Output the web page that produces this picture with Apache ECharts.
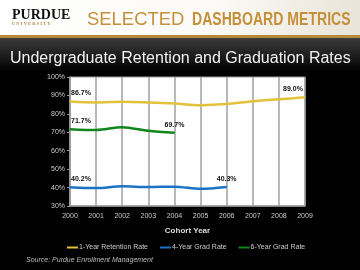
<!DOCTYPE html>
<html>
<head>
<meta charset="utf-8">
<script src="https://cdn.jsdelivr.net/npm/echarts@6/dist/echarts.min.js"></script>
<style>
  html, body { margin: 0; padding: 0; background: #000; }
  #chart { width: 360px; height: 270px; }
</style>
</head>
<body>
<div id="chart"></div>
<script>
// cohort years
const years = ['2000', '2001', '2002', '2003', '2004', '2005', '2006', '2007', '2008', '2009']

// rates in percent
const retention1Yr = [86.7, 86.2, 86.6, 86.2, 85.6, 84.7, 85.3, 86.9, 87.9, 89.0]
const grad4Yr = [40.2, 39.7, 40.7, 40.3, 40.5, 39.3, 40.3, null, null, null]
const grad6Yr = [71.7, 71.2, 72.8, 70.8, 69.7, null, null, null, null, null]

const seriesNames = ['1-Year Retention Rate', '4-Year Grad Rate', '6-Year Grad Rate']
const seriesColors = ['#e2c23a', '#1c73c4', '#11861c']

const chart = echarts.init(document.getElementById('chart'))

// label only the first and last point of a line
const endLabels = (data, offFirst, offLast) => {
  let last = data.length - 1
  while (data[last] == null) last--
  return data.map((v, i) => {
    if (i !== 0 && i !== last) return v
    return {
      value: v,
      label: {
        show: true,
        position: 'top',
        distance: 4,
        offset: i === 0 ? offFirst : offLast,
        formatter: p => p.value.toFixed(1) + '%',
        color: '#111',
        fontSize: 7,
        fontWeight: 'bold',
        fontFamily: 'Arial, Liberation Sans, sans-serif'
      }
    }
  })
}

const makeLine = (name, data, color, offFirst, offLast) => ({
  name,
  type: 'line',
  data: endLabels(data, offFirst, offLast),
  symbol: 'circle',
  symbolSize: 1,
  showSymbol: true,
  showAllSymbol: true,
  smooth: 0.3,
  color,
  itemStyle: { color },
  lineStyle: { width: 2.5, color },
  connectNulls: false
})

const option = {
  backgroundColor: '#000',
  animation: false,
  textStyle: { fontFamily: 'Arial, Liberation Sans, sans-serif' },
  graphic: [
    // white header
    {
      type: 'rect', left: 0, top: 0, z: -10,
      shape: { width: 360, height: 36 },
      style: {
        fill: new echarts.graphic.LinearGradient(0, 0, 1, 0, [
          { offset: 0, color: '#ffffff' },
          { offset: 0.6, color: '#fbfaf7' },
          { offset: 1, color: '#e9e4d8' }
        ])
      }
    },
    // gold rule
    {
      type: 'rect', left: 0, top: 35, z: -9,
      shape: { width: 360, height: 3 },
      style: { fill: '#b9893a' }
    },
    // dark title band
    {
      type: 'rect', left: 0, top: 38, z: -9,
      shape: { width: 360, height: 34 },
      style: {
        fill: new echarts.graphic.LinearGradient(0, 0, 0, 1, [
          { offset: 0, color: '#3c3c3c' },
          { offset: 1, color: '#000' }
        ])
      }
    },
    {
      type: 'text', x: 12, y: 8,
      style: { text: 'PURDUE', fill: '#111', font: 'bold 14px "Liberation Serif", serif' }
    },
    {
      type: 'text', x: 12, y: 21,
      style: { text: 'U N I V E R S I T Y', fill: '#b9893a', font: 'bold 4.5px "Liberation Serif", serif' }
    },
    {
      type: 'text', x: 87, y: 10, scaleX: 0.97,
      style: { text: 'SELECTED', fill: '#c4903a', font: '19px "Liberation Sans", Arial, sans-serif' }
    },
    {
      type: 'text', x: 192, y: 10, scaleX: 0.74,
      style: { text: 'DASHBOARD METRICS', fill: '#c4903a', font: 'bold 19px "Liberation Sans", Arial, sans-serif' }
    },
    {
      type: 'text', x: 10, y: 51,
      style: { text: 'Undergraduate Retention and Graduation Rates', fill: '#f2f2f2', font: '16px "Liberation Sans", Arial, sans-serif' }
    },
    {
      type: 'text', x: 26, y: 257,
      style: { text: 'Source: Purdue Enrollment Management', fill: '#bbb', font: 'italic 7px "Liberation Sans", Arial, sans-serif' }
    }
  ],
  grid: {
    left: 70,
    right: 55,
    top: 77,
    bottom: 64,
    show: true,
    backgroundColor: '#fff',
    borderColor: '#999',
    borderWidth: 1
  },
  legend: {
    data: seriesNames,
    left: 62,
    top: 239,
    itemWidth: 11,
    itemHeight: 2,
    itemGap: 12,
    icon: 'rect',
    textStyle: { color: '#ccc', fontSize: 7, padding: [0, 0, 0, -4] }
  },
  xAxis: {
    type: 'category',
    data: years,
    boundaryGap: false,
    name: 'Cohort Year',
    nameLocation: 'middle',
    nameGap: 21,
    nameTextStyle: { color: '#ddd', fontSize: 8, fontWeight: 'bold' },
    axisLine: { lineStyle: { color: '#999', width: 1.5 } },
    axisTick: { show: false },
    axisLabel: { color: '#ccc', fontSize: 7, margin: 7 },
    splitLine: { show: true, lineStyle: { color: '#a0a0a0', width: 1.5 } }
  },
  yAxis: {
    type: 'value',
    min: 30,
    max: 100,
    interval: 10,
    axisLine: { show: true, lineStyle: { color: '#999', width: 1.5 } },
    axisTick: { show: true, length: 3, lineStyle: { color: '#999' } },
    axisLabel: { color: '#ccc', fontSize: 7, margin: 5, formatter: '{value}%' },
    splitLine: { show: false }
  },
  series: [
    makeLine(seriesNames[0], retention1Yr, seriesColors[0], [11, 0], [-12, 0]),
    makeLine(seriesNames[1], grad4Yr, seriesColors[1], [11, 0], [0, 0]),
    makeLine(seriesNames[2], grad6Yr, seriesColors[2], [11, 0], [0, 0])
  ]
}

chart.setOption(option)
</script>
</body>
</html>
